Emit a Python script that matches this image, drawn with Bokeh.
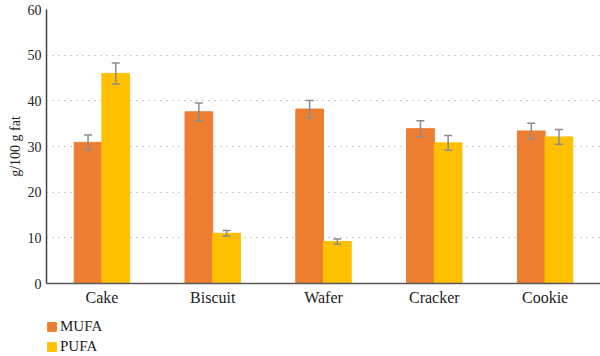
from bokeh.plotting import figure
from bokeh.layouts import column
from bokeh.models import ColumnDataSource, Whisker, Legend, LegendItem, FactorRange, Range1d, FixedTicker
from bokeh.transform import dodge
from bokeh.embed import file_html
from bokeh.resources import INLINE

categories = ["Cake", "Biscuit", "Wafer", "Cracker", "Cookie"]
mufa = [30.9, 37.6, 38.2, 33.9, 33.4]
mufa_err = [1.6, 1.95, 1.9, 1.75, 1.7]
pufa = [46.0, 11.0, 9.2, 30.8, 32.1]
pufa_err = [2.3, 0.6, 0.55, 1.6, 1.6]
series = ["MUFA", "PUFA"]
colors = ["#ED7D31", "#FFC000"]
y_ticks = [0, 10, 20, 30, 40, 50, 60]

src = ColumnDataSource(dict(
    cat=categories,
    mufa=mufa, mufa_lo=[v - e for v, e in zip(mufa, mufa_err)], mufa_hi=[v + e for v, e in zip(mufa, mufa_err)],
    pufa=pufa, pufa_lo=[v - e for v, e in zip(pufa, pufa_err)], pufa_hi=[v + e for v, e in zip(pufa, pufa_err)],
))

FONT = "Liberation Serif"
TXT = "#222222"
ERR = "#8C8C8C"

p = figure(width=600, height=311, x_range=FactorRange(*categories), y_range=Range1d(0, 60),
           output_backend="svg", toolbar_location=None,
           min_border_left=46, min_border_right=0, min_border_top=9, min_border_bottom=28)
p.outline_line_color = None

p.vbar(x=dodge("cat", -0.125, range=p.x_range), top="mufa", width=0.25, source=src,
       fill_color=colors[0], line_color=colors[0])
p.vbar(x=dodge("cat", 0.125, range=p.x_range), top="pufa", width=0.25, source=src,
       fill_color=colors[1], line_color=colors[1])

for col, off in (("mufa", -0.125), ("pufa", 0.125)):
    w = Whisker(base=dodge("cat", off, range=p.x_range), upper=col + "_hi", lower=col + "_lo", source=src,
                line_color=ERR, line_width=1.5, level="overlay")
    for h in (w.upper_head, w.lower_head):
        h.size = 8
        h.line_color = ERR
        h.line_width = 1.5
    p.add_layout(w)

p.xgrid.grid_line_color = None
p.ygrid.grid_line_color = "#9A9A9A"
p.ygrid.grid_line_dash = "1 5"
p.ygrid.grid_line_width = 1.2
p.yaxis.ticker = FixedTicker(ticks=y_ticks)

p.yaxis.axis_line_color = "#404040"
p.yaxis.axis_line_width = 1.5
p.xaxis.axis_line_color = "#595959"
p.xaxis.axis_line_width = 1.5
for ax in (p.xaxis, p.yaxis):
    ax.major_tick_line_color = None
    ax.minor_tick_line_color = None
    ax.major_tick_in = 0
    ax.major_tick_out = 0
    ax.minor_tick_in = 0
    ax.minor_tick_out = 0
    ax.major_label_text_font = FONT
    ax.major_label_text_color = TXT
    ax.axis_label_text_font = FONT
p.xaxis.major_label_text_font_size = "16px"
p.yaxis.major_label_text_font_size = "14px"
p.yaxis.major_label_standoff = 5
p.xaxis.major_label_standoff = 5
p.yaxis.axis_label = "g/100 g fat"
p.yaxis.axis_label_text_font_style = "normal"
p.yaxis.axis_label_text_font_size = "14px"
p.yaxis.axis_label_text_color = TXT
p.yaxis.axis_label_standoff = 2

# legend strip below the chart (its swatches come from the same data source, drawn outside the strip's view)
lg = figure(width=600, height=45, x_range=Range1d(0, 1), y_range=Range1d(0, 1),
            output_backend="svg", toolbar_location=None, x_axis_location=None, y_axis_location=None,
            min_border_left=46, min_border_right=0, min_border_top=0, min_border_bottom=0)
lg.outline_line_color = None
lg.xgrid.grid_line_color = None
lg.ygrid.grid_line_color = None
items = []
for name, c, col in zip(series, colors, ("mufa", "pufa")):
    r = lg.vbar(x=col, top=col, width=0.1, source=src, fill_color=c, line_color=c)
    items.append(LegendItem(label=name, renderers=[r]))
legend = Legend(items=items, orientation="vertical", location=(0, 0))
legend.label_text_font = FONT
legend.label_text_font_size = "15px"
legend.label_text_color = TXT
legend.glyph_width = 11
legend.glyph_height = 11
legend.label_height = 20
legend.label_standoff = 3
legend.spacing = 0
legend.padding = 0
legend.margin = 0
legend.border_line_color = None
legend.background_fill_alpha = 0
lg.add_layout(legend)

layout = column(p, lg, spacing=0)
open("out.html", "w").write(file_html(layout, INLINE))
